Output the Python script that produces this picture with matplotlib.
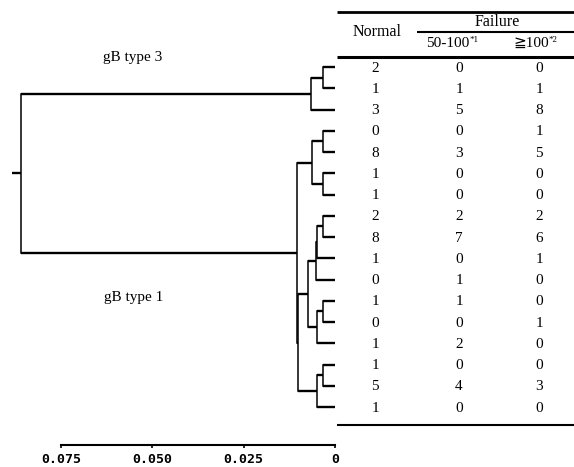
import matplotlib
matplotlib.use('Agg')
import matplotlib.pyplot as plt
import matplotlib.transforms as mtransforms

# ---------------- data ----------------
normal = [2, 1, 3, 0, 8, 1, 1, 2, 8, 1, 0, 1, 0, 1, 1, 5, 1]
fail_50_100 = [0, 1, 5, 0, 3, 0, 0, 2, 7, 0, 1, 1, 0, 2, 0, 4, 0]
fail_ge100 = [0, 1, 8, 1, 5, 0, 0, 2, 6, 1, 0, 0, 1, 0, 0, 3, 0]

# linkage of the dendrogram: (child a, child b, merge height); leaves are 0..16
merge_a = [0, 17, 3, 5, 19, 7, 22, 23, 11, 25, 24, 14, 28, 27, 21, 18]
merge_b = [1, 2, 4, 6, 20, 8, 9, 10, 12, 13, 26, 15, 16, 29, 30, 31]
merge_h = [0.0032, 0.0066, 0.0033, 0.0033, 0.0064, 0.0033, 0.0049, 0.0053,
           0.0033, 0.0048, 0.0073, 0.0032, 0.0050, 0.0101, 0.0105, 0.0860]
root_stub = 0.0883

cluster_labels = ['gB type 3', 'gB type 1']
tick_values = [0.075, 0.050, 0.025, 0.0]
tick_labels = ['0.075', '0.050', '0.025', '0']

head_normal = 'Normal'
head_failure = 'Failure'
sub1, sub1_sup = '50-100', '*1'
sub2, sub2_sup = '\u2267100', '*2'

# ---------------- figure ----------------
W, H = 574, 467
fig = plt.figure(figsize=(W / 100, H / 100), dpi=100)
ax = fig.add_axes([0, 22 / H, 1, 445 / H])
ax.patch.set_alpha(0)

px_per_unit = 274 / 0.075
zero_px = 335
ax.set_xlim(zero_px / px_per_unit, -(W - zero_px) / px_per_unit)
row0, rowh = 67.0, 21.25
ax.set_ylim((445 - row0) / rowh, -row0 / rowh)

serif = ['Liberation Serif', 'DejaVu Serif', 'DejaVu Sans', 'Noto Sans CJK JP']
serif_ge = ['Liberation Serif', 'DejaVu Sans', 'Noto Sans CJK JP']

# dendrogram
n = len(normal)
pos = {i: (0.0, float(i)) for i in range(n)}
for k, (a, b, h) in enumerate(zip(merge_a, merge_b, merge_h)):
    xa, ya = pos[a]
    xb, yb = pos[b]
    ax.plot([xa, h], [ya, ya], color='black', lw=1.7, solid_capstyle='butt', clip_on=False)
    ax.plot([xb, h], [yb, yb], color='black', lw=1.7, solid_capstyle='butt', clip_on=False)
    ax.plot([h, h], [ya, yb], color='black', lw=1.1, solid_capstyle='projecting', clip_on=False)
    pos[n + k] = (h, (ya + yb) / 2)
rx, ry = pos[n + len(merge_h) - 1]
ax.plot([rx, root_stub], [ry, ry], color='black', lw=1.7, solid_capstyle='butt', clip_on=False)

ax.text(0.0555, -0.47, cluster_labels[0], family=serif, fontsize=11, ha='center', va='center')
ax.text(0.0550, 10.87, cluster_labels[1], family=serif, fontsize=11, ha='center', va='center')

# axis
for s in ['top', 'left', 'right']:
    ax.spines[s].set_visible(False)
ax.spines['bottom'].set_bounds(0, 0.075)
ax.spines['bottom'].set_linewidth(1.5)
ax.set_yticks([])
ax.set_xticks(tick_values)
ax.set_xticklabels(tick_labels, family='DejaVu Sans Mono', fontweight='bold', fontsize=9.5)
ax.tick_params(axis='x', direction='out', length=2.5, width=1.2, pad=3.5)

# table (x in axes fraction, y in row units)
tr = mtransforms.blended_transform_factory(ax.transAxes, ax.transData)
col_x = [375 / W, 459 / W, 539 / W]
tab_left = 337 / W
for i in range(n):
    for cx, vals in zip(col_x, [normal, fail_50_100, fail_ge100]):
        ax.text(cx, i + 0.05, str(vals[i]), transform=tr, family=serif, fontsize=11,
                ha='center', va='center', clip_on=False)

def rule(x0, y, lw):
    ax.plot([x0, 1.0], [y, y], transform=tr, color='black', lw=lw,
            solid_capstyle='butt', clip_on=False)

rule(tab_left, (11.7 - row0) / rowh, 2.0)
rule(417 / W, (32.3 - row0) / rowh, 1.5)
rule(tab_left, (56.7 - row0) / rowh, 2.2)
rule(tab_left, (425 - row0) / rowh, 1.5)

ax.text(377 / W, (32 - row0) / rowh, head_normal, transform=tr, family=serif,
        fontsize=11.5, ha='center', va='center')
ax.text(497 / W, (22.5 - row0) / rowh, head_failure, transform=tr, family=serif,
        fontsize=11.5, ha='center', va='center')
t1 = ax.text(448 / W, (43.5 - row0) / rowh, sub1, transform=tr, family=serif,
             fontsize=11, ha='center', va='center')
ax.annotate(sub1_sup, xy=(1.0, 0.78), xycoords=t1, family=serif, fontsize=6.5,
            ha='left', va='center')
t2 = ax.text(531 / W, (43.5 - row0) / rowh, sub2, transform=tr, family=serif_ge,
             fontsize=11, ha='center', va='center')
ax.annotate(sub2_sup, xy=(1.0, 0.78), xycoords=t2, family=serif, fontsize=6.5,
            ha='left', va='center')

fig.savefig('out.png', dpi=100)
